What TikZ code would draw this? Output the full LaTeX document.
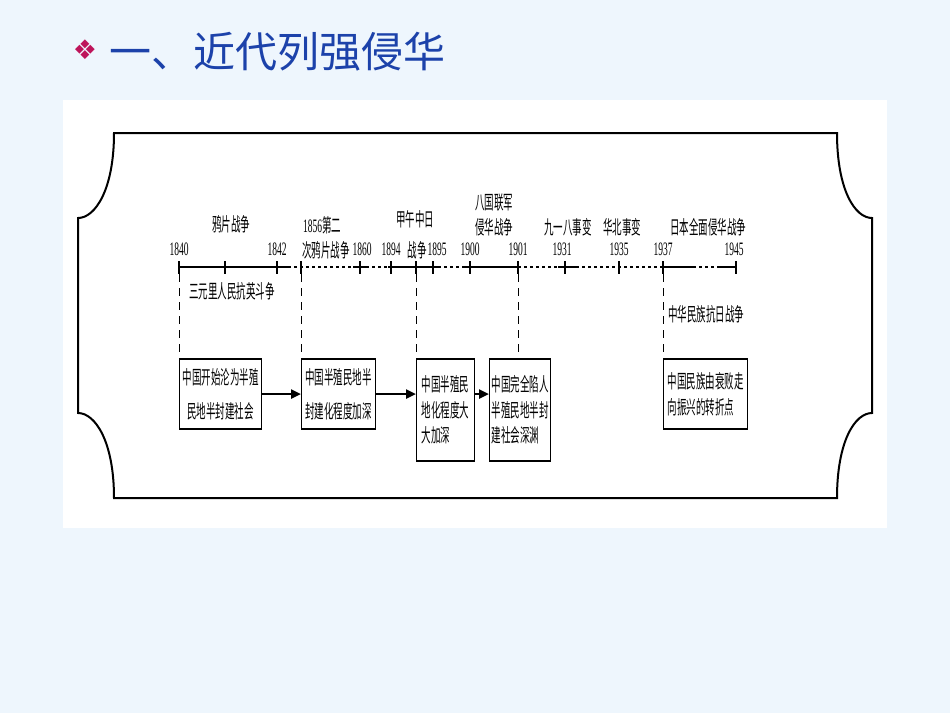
\documentclass[tikz,border=0pt]{standalone}
\usepackage{fontspec}
\setmainfont{Liberation Serif}
\newfontfamily\cjk{Noto Sans CJK SC}
\newfontfamily\cjkn[FakeStretch=0.5]{Noto Sans CJK SC}
\newfontfamily\yearfont[FakeStretch=0.5]{Liberation Serif}
\newfontfamily\symfont{DejaVu Sans}
\usetikzlibrary{arrows.meta}
\definecolor{bgblue}{RGB}{238,246,253}
\definecolor{titleblue}{RGB}{28,66,170}
\definecolor{bulletred}{RGB}{190,20,90}
\tikzset{
  frameline/.style={line width=2pt},
  solidax/.style={line width=2.2pt},
  dotax/.style={line width=2pt, dash pattern=on 3pt off 3pt},
  tickmark/.style={line width=1.1pt},
  vdash/.style={line width=0.8pt, dash pattern=on 8pt off 6pt},
  yr/.style={font=\yearfont\fontsize{19}{19}\selectfont, inner sep=0pt},
  lbl/.style={font=\cjkn\fontsize{19}{19}\selectfont, inner sep=0pt},
  evbox/.style={draw, line width=1.1pt, anchor=north west, inner sep=0pt,
    font=\cjkn\fontsize{19}{25.5}\selectfont, align=left},
  arr/.style={line width=2.2pt, -{Triangle[length=10pt,width=9pt]}},
}
\begin{document}
\begin{tikzpicture}[x=1pt,y=-1pt]
\fill[bgblue] (0,0) rectangle (950,713);
\useasboundingbox (0,0) rectangle (950,713);
\fill[white] (63,100) rectangle (887,528);

% title
\node[text=bulletred, font=\symfont\fontsize{27}{27}\selectfont, inner sep=0pt] (bul) at (85,50) {❖};
\node[text=titleblue, font=\cjk\fontsize{42}{42}\selectfont, inner sep=0pt, anchor=west] (title) at (109,52) {一、近代列强侵华};

% frame
\draw[frameline] (114,133) -- (837,133)
  .. controls (837,190) and (855,218) .. (872,218) -- (872,413)
  .. controls (855,413) and (837,441) .. (837,498) -- (114,498)
  .. controls (114,441) and (95,413) .. (78,413) -- (78,218)
  .. controls (95,218) and (114,190) .. (114,133) -- cycle;

% axis
\foreach \a/\b in {179/288, 353/366, 388/438, 465/518, 558/576, 663/693, 717/736}
  \draw[solidax] (\a,267) -- (\b,267);
\foreach \a/\b in {288/353, 366/388, 438/465, 518/558, 576/663, 693/717}
  \draw[dotax] (\a,267) -- (\b,267);

\coordinate (t1840) at (179,267);
\coordinate (tmid) at (225,267);
\coordinate (t1842) at (277,267);
\coordinate (t1856) at (301,267);
\coordinate (t1860) at (360,267);
\coordinate (t1894) at (391,267);
\coordinate (tjw) at (416,267);
\coordinate (t1895) at (433,267);
\coordinate (t1900) at (470,267);
\coordinate (t1901) at (518,267);
\coordinate (t1931) at (565,267);
\coordinate (t1935) at (619,267);
\coordinate (t1937) at (663,267);
\coordinate (t1945) at (736,267);
\foreach \t in {t1840,tmid,t1842,t1856,t1860,t1894,tjw,t1895,t1900,t1901,t1931,t1935,t1937,t1945}
  \draw[tickmark] ([yshift=6pt]\t) -- ([yshift=-7pt]\t);

% year labels
\node[yr] (y1840) at (179,249) {1840};
\node[yr] (y1842) at (277,249) {1842};
\node[yr] (y1860) at (362,249) {1860};
\node[yr] (y1894) at (391,249) {1894};
\node[yr] (y1895) at (437,249) {1895};
\node[yr] (y1900) at (470,249) {1900};
\node[yr] (y1901) at (518,249) {1901};
\node[yr] (y1931) at (562,249) {1931};
\node[yr] (y1935) at (619,249) {1935};
\node[yr] (y1937) at (663,249) {1937};
\node[yr] (y1945) at (734,249) {1945};

% event labels
\node[lbl] (l1) at (231,224) {鸦片战争};
\node[lbl] (l2a) at (322,225) {{\yearfont 1856}第二};
\node[lbl] (l2b) at (326,250) {次鸦片战争};
\node[lbl] (l3a) at (415,219) {甲午中日};
\node[lbl] (l3b) at (417,250) {战争};
\node[lbl] (l4a) at (494,203) {八国联军};
\node[lbl] (l4b) at (494,227) {侵华战争};
\node[lbl] (l5) at (568,227) {九一八事变};
\node[lbl] (l6) at (622,227) {华北事变};
\node[lbl] (l7) at (708,227) {日本全面侵华战争};
\node[lbl] (l8) at (232,291) {三元里人民抗英斗争};
\node[lbl] (l9) at (706,314) {中华民族抗日战争};

% boxes
\node[evbox, align=center, font=\cjkn\fontsize{19}{34}\selectfont,
  minimum width=82pt, minimum height=69pt] (b1) at (179,359)
  {中国开始沦为半殖\\民地半封建社会};
\node[evbox, font=\cjkn\fontsize{19}{34}\selectfont,
  minimum width=74pt, minimum height=69pt] (b2) at (301,359)
  {中国半殖民地半\\封建化程度加深};
\node[evbox, minimum width=58pt, minimum height=101pt] (b3) at (416,359)
  {中国半殖民\\地化程度大\\大加深};
\node[evbox, minimum width=61pt, minimum height=101pt] (b4) at (489,359)
  {中国完全陷人\\半殖民地半封\\建社会深渊};
\node[evbox, minimum width=84pt, minimum height=69pt] (b5) at (663,359)
  {中国民族由衰败走\\向振兴的转折点};
\foreach \b in {b1,b2,b3,b4,b5} {
  \draw[line width=2.4pt] (\b.north west) -- (\b.north east);
  \draw[line width=2.4pt] (\b.south west) -- (\b.south east);
}

% dashed guides
\draw[vdash] ([yshift=-7pt]t1840) -- (b1.north west);
\draw[vdash] ([yshift=-7pt]t1856) -- (b2.north west);
\draw[vdash] ([yshift=-7pt]tjw) -- (b3.north west);
\draw[vdash] ([yshift=-7pt]t1901) -- (t1901 |- b4.north);
\draw[vdash] ([yshift=-7pt]t1937) -- (b5.north west);

% arrows
\draw[arr] (b1.east) -- (b2.west);
\draw[arr] (b2.east) -- (b2.east -| b3.west);
\draw[arr] (b3.east |- b2.east) -- (b4.west |- b2.east);
\end{tikzpicture}
\end{document}
